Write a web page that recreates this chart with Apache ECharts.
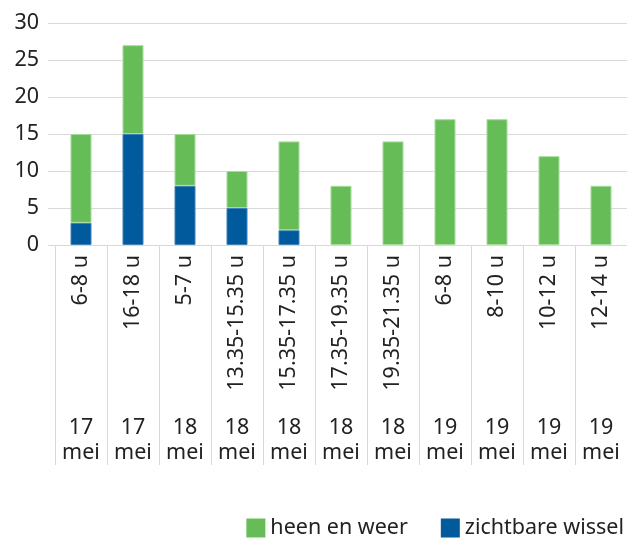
<!DOCTYPE html>
<html><head><meta charset="utf-8">
<script src="https://cdn.jsdelivr.net/npm/echarts@6/dist/echarts.min.js"></script>
<style>html,body{margin:0;padding:0;background:#fff}#c{width:627px;height:539px}</style>
</head><body><div id="c"></div>
<script>
const timeLabels = ['6-8 u','16-18 u','5-7 u','13.35-15.35 u','15.35-17.35 u','17.35-19.35 u','19.35-21.35 u','6-8 u','8-10 u','10-12 u','12-14 u'];
const dateLabels = ['17\nmei','17\nmei','18\nmei','18\nmei','18\nmei','18\nmei','18\nmei','19\nmei','19\nmei','19\nmei','19\nmei'];
const zichtbareWissel = [3, 15, 8, 5, 2, null, null, null, null, null, null];
const heenEnWeer = [12, 12, 7, 5, 12, 8, 14, 17, 17, 12, 8];
const yTicks = [0, 5, 10, 15, 20, 25, 30];

const font = 'Noto Sans';
const fs = 21.5;
const txt = '#222';
const gridCol = '#d9d9d9';
const chart = echarts.init(document.getElementById('c'));
chart.setOption({
  animation: false,
  textStyle: {fontFamily: font},
  grid: {left: 55, right: 0, top: 23, bottom: 294, containLabel: false},
  legend: {
    data: ['heen en weer', 'zichtbare wissel'],
    right: 3, bottom: 0, padding: 0, itemWidth: 19, itemHeight: 19, itemGap: 33,
    icon: 'rect',
    itemStyle: {borderWidth: 0},
    textStyle: {fontFamily: font, fontSize: fs, color: txt}
  },
  xAxis: [{
    type: 'category', data: timeLabels, position: 'bottom',
    axisLine: {show: true, lineStyle: {color: gridCol, width: 1}},
    axisTick: {show: true, length: 220, lineStyle: {color: gridCol}},
    axisLabel: {rotate: 90, margin: 10, fontFamily: font, fontSize: fs, color: txt, interval: 0}
  }, {
    type: 'category', data: dateLabels, position: 'bottom', offset: 170,
    axisLine: {show: false}, axisTick: {show: false},
    axisLabel: {fontFamily: font, fontSize: fs, color: txt, lineHeight: 25, interval: 0, margin: 0}
  }],
  yAxis: {
    type: 'value', min: yTicks[0], max: yTicks[yTicks.length-1], interval: 5,
    axisLine: {show: false},
    axisTick: {show: true, length: 7, lineStyle: {color: gridCol}},
    splitLine: {lineStyle: {color: gridCol, width: 1}},
    axisLabel: {fontFamily: font, fontSize: fs, color: txt, margin: 16}
  },
  series: [{
    name: 'zichtbare wissel', type: 'bar', stack: 's', data: zichtbareWissel, barWidth: 21, xAxisIndex: 0,
    itemStyle: {color: '#005a9c', borderColor: '#3f80b8', borderWidth: 1}
  }, {
    name: 'heen en weer', type: 'bar', stack: 's', data: heenEnWeer, barWidth: 21, xAxisIndex: 0,
    itemStyle: {color: '#66bd58', borderColor: '#a4dc98', borderWidth: 1}
  }]
});
</script></body></html>
